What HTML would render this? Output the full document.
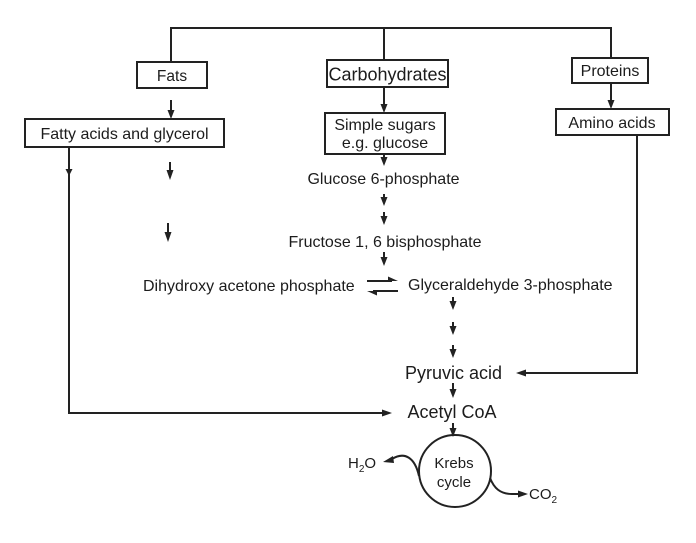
<!DOCTYPE html>
<html>
<head>
<meta charset="utf-8">
<style>
html,body{margin:0;padding:0;background:#fff;}
svg{display:block;}
text{font-family:"Liberation Sans",Arial,sans-serif;fill:#1c1c1c;}
</style>
</head>
<body>
<svg width="696" height="543" viewBox="0 0 696 543" xmlns="http://www.w3.org/2000/svg">
<g stroke="#222" stroke-width="2" fill="none">
  <!-- top distribution line -->
  <polyline points="171,62 171,28 611,28 611,58"/>
  <line x1="384" y1="28" x2="384" y2="60"/>
  <!-- boxes -->
  <rect x="137" y="62" width="70" height="26"/>
  <rect x="327" y="60" width="121" height="27"/>
  <rect x="572" y="58" width="76" height="25"/>
  <rect x="25" y="119" width="199" height="28"/>
  <rect x="325" y="113" width="120" height="41"/>
  <rect x="556" y="109" width="113" height="26"/>
  <!-- left line from fatty acids to acetyl CoA -->
  <polyline points="69,147 69,413 384,413"/>
  <!-- amino acids to pyruvic -->
  <polyline points="637,135 637,373 524,373"/>
  <!-- short arrow shafts -->
  <line x1="171" y1="100" x2="171" y2="112"/>
  <line x1="384" y1="87" x2="384" y2="106"/>
  <line x1="611" y1="83" x2="611" y2="102"/>
  <line x1="170" y1="162" x2="170" y2="172"/>
  <line x1="168" y1="223" x2="168" y2="234"/>
  <line x1="384" y1="154" x2="384" y2="159"/>
  <line x1="384" y1="194" x2="384" y2="199"/>
  <line x1="384" y1="212" x2="384" y2="218"/>
  <line x1="384" y1="252" x2="384" y2="259"/>
  <line x1="453" y1="297" x2="453" y2="303"/>
  <line x1="453" y1="322" x2="453" y2="328"/>
  <line x1="453" y1="345" x2="453" y2="351"/>
  <line x1="453" y1="383" x2="453" y2="391"/>
  <line x1="453" y1="423" x2="453" y2="430"/>
  <!-- equilibrium -->
  <line x1="367" y1="281" x2="392" y2="281"/>
  <line x1="373" y1="291" x2="398" y2="291"/>
  <!-- Krebs circle -->
  <circle cx="455" cy="471" r="36"/>
  <!-- H2O curve -->
  <path d="M419,476 C415,458 405,451 392,459"/>
  <!-- CO2 curve -->
  <path d="M490,478 C494,488 500,494 512,494 L520,494"/>
</g>
<g fill="#222" stroke="none">
  <!-- arrowheads (down) -->
  <polygon points="167.5,110 174.5,110 171,119"/>
  <polygon points="380.5,104 387.5,104 384,113"/>
  <polygon points="607.5,100 614.5,100 611,109"/>
  <polygon points="166.5,170 173.5,170 170,180"/>
  <polygon points="164.5,232 171.5,232 168,242"/>
  <polygon points="65.5,169 72.5,169 69,176"/>
  <polygon points="380.5,157 387.5,157 384,166"/>
  <polygon points="380.5,197 387.5,197 384,206"/>
  <polygon points="380.5,216 387.5,216 384,225"/>
  <polygon points="380.5,257 387.5,257 384,266"/>
  <polygon points="449.5,301 456.5,301 453,310"/>
  <polygon points="449.5,326 456.5,326 453,335"/>
  <polygon points="449.5,349 456.5,349 453,358"/>
  <polygon points="449.5,389 456.5,389 453,398"/>
  <polygon points="449.5,428 456.5,428 453,437"/>
  <!-- horizontal arrowheads -->
  <polygon points="382,409.5 382,416.5 392,413"/>
  <polygon points="526,369.5 526,376.5 516,373"/>
  <!-- equilibrium half heads -->
  <polygon points="398,281 388,276.5 388,281"/>
  <polygon points="367,291 377,295.5 377,291"/>
  <!-- H2O head -->
  <polygon points="383,462 393,456 394,463"/>
  <!-- CO2 head -->
  <polygon points="528,494 518,490.5 518,497.5"/>
</g>
<!-- labels -->
<text x="172" y="81" font-size="15.5" text-anchor="middle">Fats</text>
<text x="387.5" y="80.5" font-size="18" text-anchor="middle">Carbohydrates</text>
<text x="610" y="76" font-size="16" text-anchor="middle">Proteins</text>
<text x="124.5" y="139" font-size="16" text-anchor="middle">Fatty acids and glycerol</text>
<text x="385" y="130" font-size="16" text-anchor="middle">Simple sugars</text>
<text x="385" y="148" font-size="16" text-anchor="middle">e.g. glucose</text>
<text x="612" y="128" font-size="16" text-anchor="middle">Amino acids</text>
<text x="383.5" y="184" font-size="16" text-anchor="middle">Glucose 6-phosphate</text>
<text x="385" y="247" font-size="16" text-anchor="middle">Fructose 1, 6 bisphosphate</text>
<text x="143" y="291" font-size="16">Dihydroxy acetone phosphate</text>
<text x="408" y="290" font-size="16">Glyceraldehyde 3-phosphate</text>
<text x="453.5" y="379" font-size="18" text-anchor="middle">Pyruvic acid</text>
<text x="452" y="418" font-size="18" text-anchor="middle">Acetyl CoA</text>
<text x="454" y="468" font-size="15" text-anchor="middle">Krebs</text>
<text x="454" y="487" font-size="15" text-anchor="middle">cycle</text>
<text x="348" y="468" font-size="15">H<tspan font-size="10" dy="4">2</tspan><tspan dy="-4">O</tspan></text>
<text x="529" y="499" font-size="15">CO<tspan font-size="10" dy="4">2</tspan></text>
</svg>
</body>
</html>
